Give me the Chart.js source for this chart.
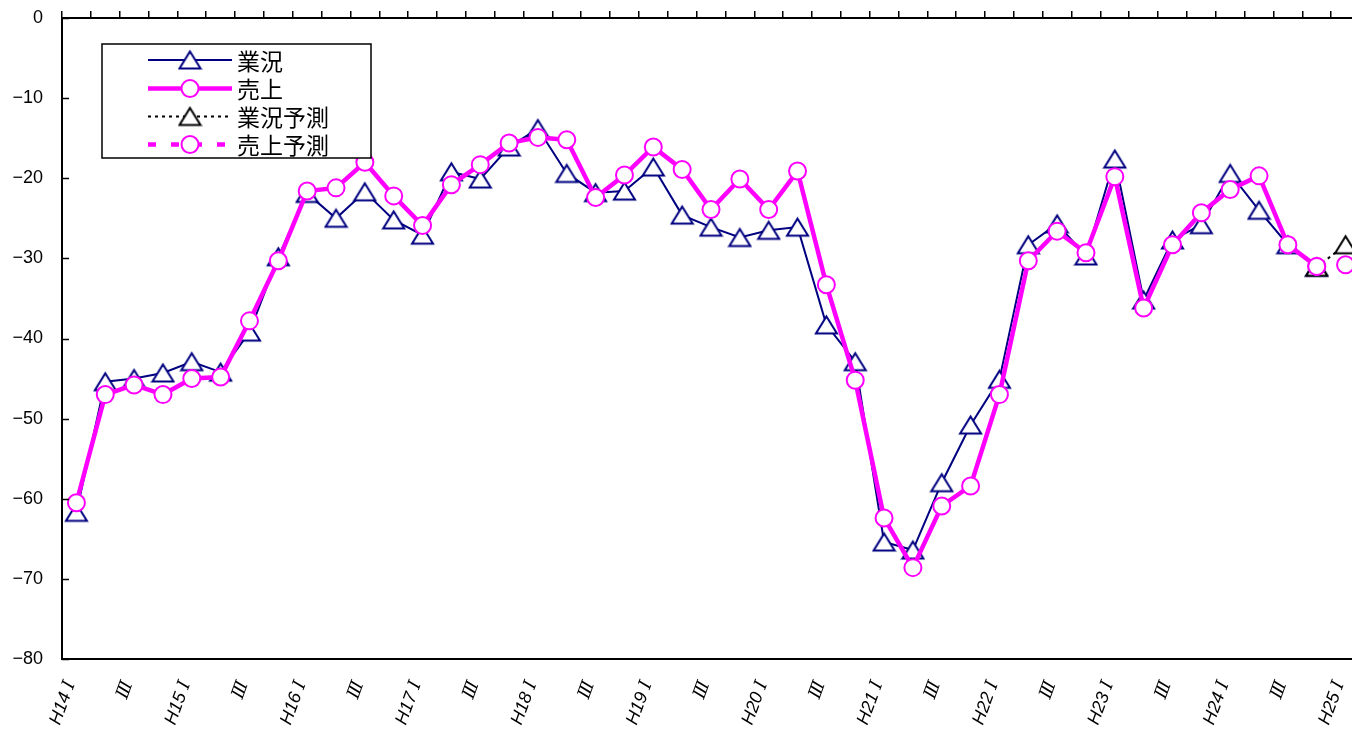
<!DOCTYPE html>
<html><head><meta charset="utf-8">
<script src="https://cdn.jsdelivr.net/npm/chart.js@4/dist/chart.umd.min.js"></script>
<style>html,body{margin:0;padding:0;overflow:hidden;background:#fff;width:1352px;height:735px}
canvas{display:block}</style></head>
<body><canvas id="c" width="1372" height="735" style="width:1372px;height:735px"></canvas>
<script>
const categories = [
 'H14 Ⅰ','Ⅱ','Ⅲ','Ⅳ','H15 Ⅰ','Ⅱ','Ⅲ','Ⅳ','H16 Ⅰ','Ⅱ','Ⅲ','Ⅳ',
 'H17 Ⅰ','Ⅱ','Ⅲ','Ⅳ','H18 Ⅰ','Ⅱ','Ⅲ','Ⅳ','H19 Ⅰ','Ⅱ','Ⅲ','Ⅳ',
 'H20 Ⅰ','Ⅱ','Ⅲ','Ⅳ','H21 Ⅰ','Ⅱ','Ⅲ','Ⅳ','H22 Ⅰ','Ⅱ','Ⅲ','Ⅳ',
 'H23 Ⅰ','Ⅱ','Ⅲ','Ⅳ','H24 Ⅰ','Ⅱ','Ⅲ','Ⅳ','H25 Ⅰ'];
const seriesNames = ['業況','売上','業況予測','売上予測'];
const gyoukyou = [-61.7,-45.4,-45.0,-44.3,-42.9,-44.2,-39.2,-29.8,-21.9,-25.0,-21.7,-25.2,
 -27.1,-19.2,-20.1,-16.1,-13.8,-19.4,-21.8,-21.6,-18.6,-24.6,-26.1,-27.4,
 -26.5,-26.1,-38.3,-42.9,-65.4,-66.4,-58.0,-50.8,-45.1,-28.3,-25.7,-29.7,
 -17.6,-35.2,-27.7,-25.8,-19.4,-24.0,-28.3,-31.1,null];
const uriage = [-60.5,-47.0,-45.8,-47.0,-45.0,-44.8,-37.8,-30.3,-21.6,-21.2,-18.0,-22.2,
 -25.9,-20.8,-18.3,-15.6,-14.9,-15.2,-22.4,-19.6,-16.1,-18.9,-23.9,-20.1,
 -23.9,-19.1,-33.3,-45.2,-62.4,-68.6,-60.9,-58.4,-47.0,-30.3,-26.6,-29.3,
 -19.8,-36.2,-28.3,-24.3,-21.4,-19.7,-28.3,-31.0,null];
const gyoukyouYosoku = [...Array(43).fill(null), -31.1, -28.3];
const uriageYosoku = [...Array(43).fill(null), -31.0, -30.8];
const yTicks = {min:-80, max:0, step:10};

function makeTri(color){
  const c=document.createElement('canvas'); c.width=25; c.height=22;
  const g=c.getContext('2d'); g.fillStyle='#fff'; g.strokeStyle=color; g.lineWidth=2;
  g.lineJoin='miter';
  g.beginPath(); g.moveTo(12.5,2.5); g.lineTo(23,19.5); g.lineTo(2,19.5); g.closePath();
  g.fill(); g.stroke(); return c;
}
const triNavy = makeTri('#000080');
const triBlack = makeTri('#000000');
const NAVY='#000080', MAG='#FF00FF';

const legendPlugin = {
  id:'customLegend',
  afterDraw(chart){
    const ctx=chart.ctx; ctx.save();
    const L=102,T=44,R=371,B=158;
    ctx.fillStyle='#fff'; ctx.fillRect(L,T,R-L,B-T);
    ctx.strokeStyle='#000'; ctx.lineWidth=1.5; ctx.strokeRect(L,T,R-L,B-T);
    const rows=[60,88.5,116.5,144.5];
    const styles=[
      {color:NAVY,w:2,dash:[],tri:triNavy},
      {color:MAG,w:4.5,dash:[],tri:null},
      {color:'#000',w:2,dash:[3,4],tri:triBlack},
      {color:MAG,w:4.5,dash:[8,15],tri:null}];
    rows.forEach((y,i)=>{
      const s=styles[i];
      ctx.beginPath(); ctx.setLineDash(s.dash); ctx.strokeStyle=s.color; ctx.lineWidth=s.w;
      ctx.moveTo(148,y); ctx.lineTo(232,y); ctx.stroke(); ctx.setLineDash([]);
      if(s.tri){ ctx.drawImage(s.tri,190-12.5,y-11); }
      else { ctx.beginPath(); ctx.arc(190,y,8.5,0,Math.PI*2); ctx.fillStyle='#fff'; ctx.fill();
        ctx.lineWidth=2; ctx.strokeStyle=MAG; ctx.stroke(); }
      ctx.fillStyle='#000'; ctx.font='23px "Noto Sans CJK JP"'; ctx.textBaseline='middle';
      ctx.textAlign='left'; ctx.fillText(seriesNames[i],237,y+1);
    });
    ctx.restore();
  }
};
const yTickPlugin = {
  id:'yInTicks',
  afterDraw(chart){
    const ys=chart.scales.y, ctx=chart.ctx; ctx.save();
    ctx.strokeStyle='#000'; ctx.lineWidth=1.5;
    ys.ticks.forEach(t=>{ const p=Math.round(ys.getPixelForValue(t.value))+0.5;
      ctx.beginPath(); ctx.moveTo(ys.right,p); ctx.lineTo(ys.right+7,p); ctx.stroke(); });
    ctx.restore();
  }
};
function noPad(s){ s.paddingTop=0; s.paddingBottom=0; s.paddingLeft=0; s.paddingRight=0; }

new Chart(document.getElementById('c'),{
  type:'line',
  data:{labels:categories, datasets:[
    {label:seriesNames[0], data:gyoukyou, borderColor:NAVY, borderWidth:2, pointStyle:triNavy,
     pointRadius:10, order:4, spanGaps:false},
    {label:seriesNames[1], data:uriage, borderColor:MAG, borderWidth:4.5, pointStyle:'circle',
     pointRadius:8.5, pointBorderWidth:2, pointBackgroundColor:'#fff', pointBorderColor:MAG, order:2},
    {label:seriesNames[2], data:gyoukyouYosoku, borderColor:'#000', borderWidth:2, borderDash:[3,4],
     pointStyle:triBlack, pointRadius:10, order:3},
    {label:seriesNames[3], data:uriageYosoku, borderColor:MAG, borderWidth:4.5, borderDash:[8,15],
     pointStyle:'circle', pointRadius:8.5, pointBorderWidth:2, pointBackgroundColor:'#fff', pointBorderColor:MAG, order:1}
  ]},
  options:{
    responsive:false, animation:false,
    layout:{padding:0},
    plugins:{legend:{display:false}, tooltip:{enabled:false}},
    elements:{line:{tension:0}},
    scales:{
      x:{type:'category', position:'bottom', offset:true,
         grid:{display:false, drawTicks:false},
         border:{display:true, color:'#000', width:2},
         ticks:{autoSkip:false, minRotation:70, maxRotation:70, padding:19, labelOffset:-6, color:'#000',
           font:{family:'"Liberation Sans", "DejaVu Serif", "Noto Sans CJK JP"', size:18, style:'italic'},
           callback:function(v,i){ return i%2===0 ? categories[i] : ''; }},
         afterFit(s){ s.height=76; noPad(s); }},
      x2:{type:'category', position:'top', offset:true, labels:categories,
         grid:{display:true, drawOnChartArea:false, drawTicks:true, tickLength:7, offset:true, color:'#000', lineWidth:1.5},
         border:{display:true, color:'#000', width:2},
         ticks:{display:false},
         afterFit(s){ s.height=18; noPad(s); }},
      y:{min:yTicks.min, max:yTicks.max,
         grid:{display:false, drawTicks:false},
         border:{display:true, color:'#000', width:2},
         ticks:{stepSize:yTicks.step, padding:19, color:'#000',
           font:{family:'"Liberation Sans", Arial, sans-serif', size:18},
           callback:v=> v<0 ? '\u2212'+Math.abs(v) : String(v)},
         afterFit(s){ s.width=62; noPad(s); }}
    }
  },
  plugins:[yTickPlugin, legendPlugin]
});
</script></body></html>
